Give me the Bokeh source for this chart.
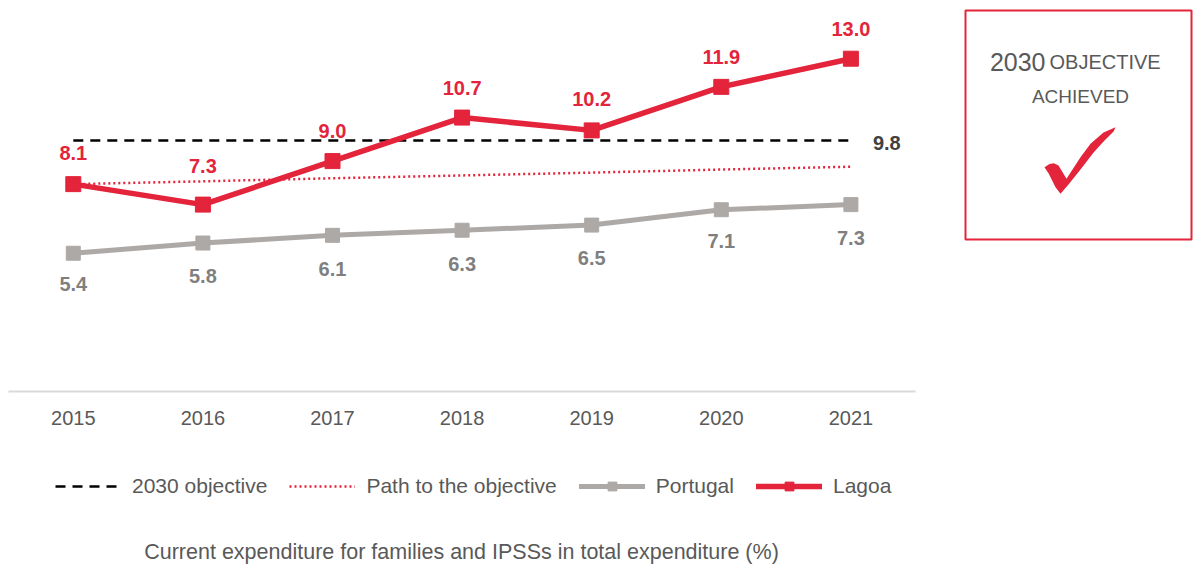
from bokeh.plotting import figure
from bokeh.models import (Range1d, ColumnDataSource, Legend, LegendItem, Label, FixedTicker)
from bokeh.embed import file_html
from bokeh.resources import INLINE
from bokeh.core.properties import value

# ---- data ----
years = ["2015", "2016", "2017", "2018", "2019", "2020", "2021"]
lagoa = [8.1, 7.3, 9.0, 10.7, 10.2, 11.9, 13.0]
portugal = [5.4, 5.8, 6.1, 6.3, 6.5, 7.1, 7.3]
objective_2030 = [9.8, 9.8, 9.8, 9.8, 9.8, 9.8, 9.8]
path_to_objective = [8.10, 8.21, 8.33, 8.44, 8.55, 8.67, 8.78]
legend_labels = ["2030 objective", "Path to the objective", "Portugal", "Lagoa"]
chart_title = "Current expenditure for families and IPSSs  in total expenditure (%)"
box_title = ["2030", "OBJECTIVE", "ACHIEVED"]

# ---- styles ----
FONT = "Liberation Sans"
RED = "#E3243B"
GRAY = "#ADA9A7"
TEXT = "#595959"
lagoa_label_dy = [-31, -39, -30, -30, -31, -30, -30]
portugal_label_dy = [31, 33, 34, 34, 33, 31, 33]

x_idx = [i + 0.5 for i in range(len(years))]   # category centres

src = ColumnDataSource(dict(
    x=x_idx, lagoa=lagoa, portugal=portugal, obj=objective_2030, path=path_to_objective,
    lagoa_txt=[f"{v:.1f}" for v in lagoa], portugal_txt=[f"{v:.1f}" for v in portugal],
    ldy=lagoa_label_dy, pdy=portugal_label_dy,
))

W, H = 1195, 564
p = figure(width=W, height=H, x_range=Range1d(-8 / 129.6, (W - 8) / 129.6),
           y_range=Range1d(-(H - 391) / 25.6, 391 / 25.6),
           min_border=0, y_axis_location=None, output_backend="svg", toolbar_location=None)
p.outline_line_color = None
p.xgrid.visible = False
p.ygrid.visible = False
p.extra_x_ranges = {"px": Range1d(0, W)}
p.extra_y_ranges = {"px": Range1d(H, 0)}

ax = p.xaxis[0]
ax.fixed_location = 0
ax.bounds = (0, len(years))
ax.ticker = FixedTicker(ticks=x_idx)
ax.major_label_overrides = {x: y for x, y in zip(x_idx, years)}
ax.axis_line_color = "#D9D9D9"
ax.axis_line_width = 2
ax.major_tick_line_color = None
ax.minor_tick_line_color = None
ax.major_label_standoff = 13
ax.major_label_text_font = FONT
ax.major_label_text_font_size = "20px"
ax.major_label_text_color = TEXT

r_obj = p.line("x", "obj", source=src, line_color="black", line_width=2.5, line_dash="10 7")
r_path = p.line("x", "path", source=src, line_color=RED, line_width=2.5, line_dash="2 3")
r_pl = p.line("x", "portugal", source=src, line_color=GRAY, line_width=5, line_cap="round")
r_ps = p.scatter("x", "portugal", source=src, marker="square", size=14, color=GRAY)
r_ll = p.line("x", "lagoa", source=src, line_color=RED, line_width=5.5, line_cap="round")
r_ls = p.scatter("x", "lagoa", source=src, marker="square", size=15, color=RED)

p.text("x", "lagoa", text="lagoa_txt", source=src, y_offset="ldy",
       text_align="center", text_baseline="middle", text_font=value(FONT),
       text_font_size="20px", text_font_style="bold", text_color=RED)
p.text("x", "portugal", text="portugal_txt", source=src, y_offset="pdy",
       text_align="center", text_baseline="middle", text_font=value(FONT),
       text_font_size="20px", text_font_style="bold", text_color="#7F7F7F")
p.text(x=[x_idx[-1]], y=[objective_2030[-1]], text=[f"{objective_2030[-1]:.1f}"],
       x_offset=22, y_offset=2, text_align="left", text_baseline="middle", text_font=value(FONT),
       text_font_size="20px", text_font_style="bold", text_color="#404040")

legend = Legend(items=[
    LegendItem(label=legend_labels[0], renderers=[r_obj]),
    LegendItem(label=legend_labels[1], renderers=[r_path]),
    LegendItem(label=legend_labels[2], renderers=[r_pl, r_ps]),
    LegendItem(label=legend_labels[3], renderers=[r_ll, r_ls]),
], orientation="horizontal", location=(55, 66), glyph_width=66, glyph_height=22,
    label_height=22, label_standoff=11, spacing=22, padding=0, margin=0,
    border_line_color=None, background_fill_alpha=0,
    label_text_font=FONT, label_text_font_size="21px", label_text_color=TEXT)
p.add_layout(legend)

p.add_layout(Label(x=464, y=H - 551, x_units="screen", y_units="screen", text=chart_title,
                   text_align="center", text_baseline="middle", text_font=FONT,
                   text_font_size="21.5px", text_color=TEXT))

# ---- objective box (pixel ranges) ----
px = dict(x_range_name="px", y_range_name="px")
p.quad(left=965, right=1191, top=10, bottom=239, fill_color=None, line_color=RED, line_width=2, **px)
p.text(x=[1045], y=[61], text=[box_title[0]], text_align="right", text_baseline="alphabetic",
       text_font=value(FONT), text_font_size="25px", text_color=TEXT, **px)
p.text(x=[1049], y=[61], text=[box_title[1]], text_align="left", text_baseline="alphabetic",
       text_font=value(FONT), text_font_size="20px", text_color=TEXT, **px)
p.text(x=[1080], y=[96], text=[box_title[2]], text_align="center", text_baseline="alphabetic",
       text_font=value(FONT), text_font_size="19px", text_color=TEXT, **px)
check_x = [1044, 1049, 1053.3, 1058, 1066, 1080, 1090, 1103, 1115, 1113.3, 1104, 1093.3, 1080, 1068, 1060, 1055, 1048.3]
check_y = [166.7, 163.5, 162.7, 165, 178.3, 156.7, 143.3, 132, 126.7, 130.7, 140, 151.7, 169, 184, 193.3, 186.7, 173.3]
p.patch(check_x, check_y, color=RED, line_width=0, **px)

open("out.html", "w").write(file_html(p, INLINE))
